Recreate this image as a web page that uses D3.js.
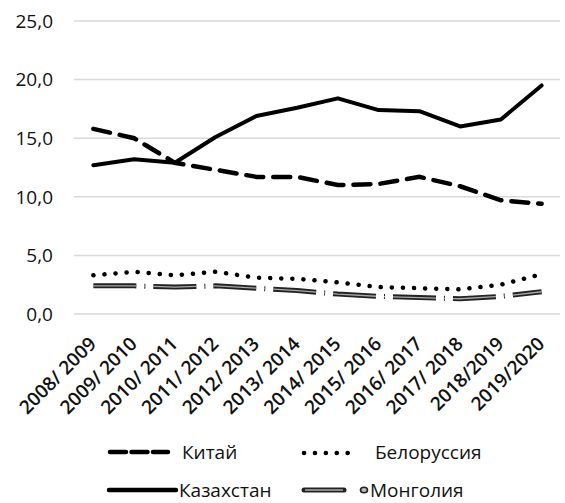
<!DOCTYPE html>
<html>
<head>
<meta charset="utf-8">
<script src="https://cdn.jsdelivr.net/npm/d3@7"></script>
<style>
  body { margin: 0; background: #fff; }
  svg { font-family: "Open Sans", sans-serif; }
</style>
</head>
<body>
<svg id="chart" width="565" height="503"></svg>
<script>
const years = ["2008/ 2009", "2009/ 2010", "2010/ 2011", "2011/ 2012", "2012/ 2013", "2013/ 2014",
    "2014/ 2015", "2015/ 2016", "2016/ 2017", "2017/ 2018", "2018/2019", "2019/2020"];
const china = [15.8, 15.0, 12.9, 12.3, 11.7, 11.7, 11.0, 11.1, 11.7, 10.9, 9.7, 9.4];
const belarus = [3.3, 3.6, 3.3, 3.6, 3.1, 3.0, 2.7, 2.3, 2.2, 2.1, 2.5, 3.4];
const kazakhstan = [12.7, 13.2, 12.9, 15.1, 16.9, 17.6, 18.4, 17.4, 17.3, 16.0, 16.6, 19.5];
const mongolia = [2.4, 2.4, 2.3, 2.4, 2.2, 2.0, 1.7, 1.5, 1.4, 1.3, 1.5, 1.9];
const yTicks = [0, 5, 10, 15, 20, 25];

const svg = d3.select("#chart");

const x = d3.scaleBand().domain(years).range([73, 562]);
const y = d3.scaleLinear().domain([0, 25]).range([314, 21]);
const cx = d => x(d) + x.bandwidth() / 2;
const fmt = v => d3.format(".1f")(v).replace(".", ",");

// grid
svg.append("g").selectAll("line")
    .data(yTicks)
    .enter().append("line")
    .attr("x1", 74).attr("x2", 560)
    .attr("y1", d => y(d)).attr("y2", d => y(d))
    .attr("stroke", "#d9d9d9")
    .attr("stroke-width", 1.5);

// y labels
svg.append("g").selectAll("text")
    .data(yTicks)
    .enter().append("text")
    .attr("x", 53)
    .attr("y", d => y(d))
    .attr("dy", "0.36em")
    .attr("text-anchor", "end")
    .attr("font-size", 19)
    .attr("fill", "#111")
    .text(fmt);

// x labels
svg.append("g").selectAll("text")
    .data(years)
    .enter().append("text")
    .attr("transform", d => `translate(${cx(d) + 4},345) rotate(-45)`)
    .attr("text-anchor", "end")
    .attr("font-size", 19)
    .attr("font-weight", 600)
    .attr("fill", "#111")
    .text(d => d);

const line = d3.line()
    .x((d, i) => cx(years[i]))
    .y(d => y(d));

// series
svg.append("path").datum(china)
    .attr("d", line)
    .attr("fill", "none")
    .attr("stroke", "#000")
    .attr("stroke-width", 4.5)
    .attr("stroke-linecap", "round")
    .attr("stroke-dasharray", "17 10");

svg.append("path").datum(belarus)
    .attr("d", line)
    .attr("fill", "none")
    .attr("stroke", "#000")
    .attr("stroke-width", 4.5)
    .attr("stroke-linecap", "round")
    .attr("stroke-dasharray", "0.1 11");

svg.append("path").datum(kazakhstan)
    .attr("d", line)
    .attr("fill", "none")
    .attr("stroke", "#000")
    .attr("stroke-width", 4)
    .attr("stroke-linejoin", "round")
    .attr("stroke-linecap", "round");

svg.append("path").datum(mongolia)
    .attr("d", line)
    .attr("fill", "none")
    .attr("stroke", "#222")
    .attr("stroke-width", 5)
    .attr("stroke-dasharray", "43 8 1 8");
svg.append("path").datum(mongolia)
    .attr("d", line)
    .attr("fill", "none")
    .attr("stroke", "#aaa")
    .attr("stroke-width", 1.3)
    .attr("stroke-dasharray", "43 8 1 8");

// legend
const lg = svg.append("g").attr("font-size", 19).attr("fill", "#111");

lg.append("line").attr("x1", 110).attr("x2", 168).attr("y1", 452).attr("y2", 452)
    .attr("stroke", "#000").attr("stroke-width", 4.5)
    .attr("stroke-linecap", "round").attr("stroke-dasharray", "16 5.5");
lg.append("text").attr("x", 182).attr("y", 452).attr("dy", "0.36em").text("Китай");

lg.append("line").attr("x1", 304).attr("x2", 358).attr("y1", 453).attr("y2", 453)
    .attr("stroke", "#000").attr("stroke-width", 4.5)
    .attr("stroke-linecap", "round").attr("stroke-dasharray", "0.1 10.8");
lg.append("text").attr("x", 375).attr("y", 452).attr("dy", "0.36em").text("Белоруссия");

lg.append("line").attr("x1", 109).attr("x2", 176).attr("y1", 490).attr("y2", 490)
    .attr("stroke", "#000").attr("stroke-width", 4.5).attr("stroke-linecap", "round");
lg.append("text").attr("x", 179).attr("y", 490).attr("dy", "0.36em").text("Казахстан");

lg.append("line").attr("x1", 304).attr("x2", 344).attr("y1", 490).attr("y2", 490)
    .attr("stroke", "#222").attr("stroke-width", 5).attr("stroke-linecap", "round");
lg.append("line").attr("x1", 305).attr("x2", 343).attr("y1", 490).attr("y2", 490)
    .attr("stroke", "#aaa").attr("stroke-width", 1.3);
lg.append("ellipse").attr("cx", 364).attr("cy", 490).attr("rx", 3.5).attr("ry", 2.8)
    .attr("fill", "#bbb").attr("stroke", "#222").attr("stroke-width", 1.6);
lg.append("text").attr("x", 370).attr("y", 490).attr("dy", "0.36em").text("Монголия");
</script>
</body>
</html>
